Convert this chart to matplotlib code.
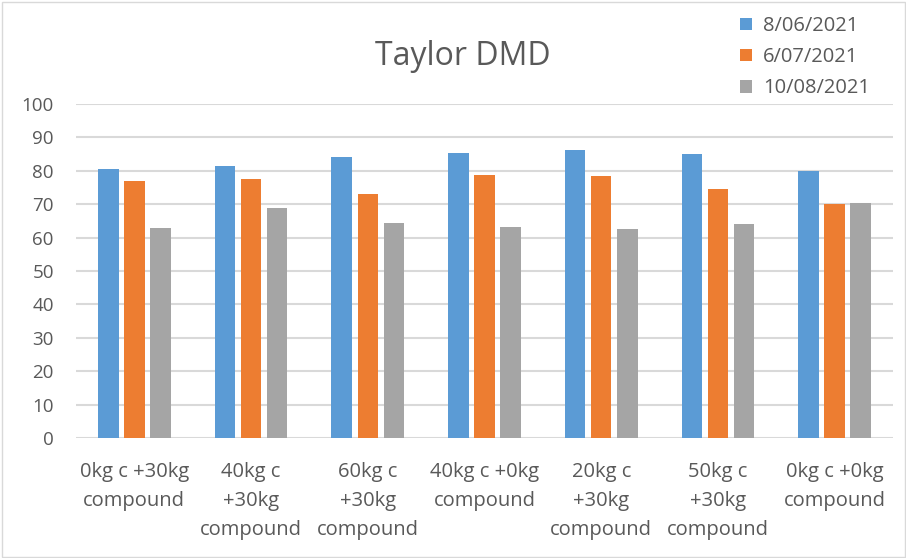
import matplotlib
matplotlib.use("Agg")
import matplotlib.pyplot as plt
import numpy as np
from matplotlib.patches import Rectangle

plt.rcParams['font.family'] = ['Open Sans', 'DejaVu Sans']

categories = ["0kg c +30kg\ncompound", "40kg c\n+30kg\ncompound", "60kg c\n+30kg\ncompound",
              "40kg c +0kg\ncompound", "20kg c\n+30kg\ncompound", "50kg c\n+30kg\ncompound",
              "0kg c +0kg\ncompound"]
series_names = ["8/06/2021", "6/07/2021", "10/08/2021"]
jun = [80.6, 81.4, 84.2, 85.4, 86.2, 85.0, 80.0]
jul = [77.0, 77.4, 73.2, 78.6, 78.4, 74.6, 70.2]
aug = [62.9, 69.0, 64.5, 63.1, 62.5, 64.1, 70.5]
yticks = list(range(0, 101, 10))

colors = ["#5B9BD5", "#ED7D31", "#A5A5A5"]
text_color = "#595959"

fig = plt.figure(figsize=(9.06, 5.58), dpi=100)
W, H = 906, 558
ax = fig.add_axes([76 / W, 1 - 438 / H, (893 - 76) / W, (438 - 104) / H])

x = np.arange(len(categories))
width = 0.176
step = 0.223
for i, (vals, name) in enumerate(zip([jun, jul, aug], series_names)):
    ax.bar(x + (i - 1) * step, vals, width, color=colors[i], label=name, zorder=3)

ax.set_xlim(-0.5, len(categories) - 0.5)
ax.set_ylim(0, 100)
ax.set_yticks(yticks)
ax.set_yticklabels([str(v) for v in yticks], fontsize=13.5, color=text_color)
ax.set_xticks(x)
ax.set_xticklabels(categories, fontsize=14.5, color=text_color, linespacing=1.6)
ax.tick_params(axis='both', length=0)
ax.tick_params(axis='x', pad=17)
ax.tick_params(axis='y', pad=16)
ax.grid(axis='y', color="#D9D9D9", linewidth=1.5, zorder=0)
for s in ax.spines.values():
    s.set_visible(False)

fig.text(463 / W, 1 - 56 / H, "Taylor DMD", ha='center', va='center', fontsize=23, color=text_color)

leg = fig.legend(loc='upper left', bbox_to_anchor=(722 / W, 1 + 2 / H), frameon=False,
                 fontsize=14.5, handlelength=0.6, handleheight=0.6, handletextpad=0.55,
                 labelspacing=0.55, labelcolor=text_color)

fig.add_artist(Rectangle((1.5 / W, 1.5 / H), (W - 3) / W, (H - 3) / H, transform=fig.transFigure,
                         fill=False, edgecolor="#D9D9D9", linewidth=1))

fig.savefig("out.png", dpi=100)
